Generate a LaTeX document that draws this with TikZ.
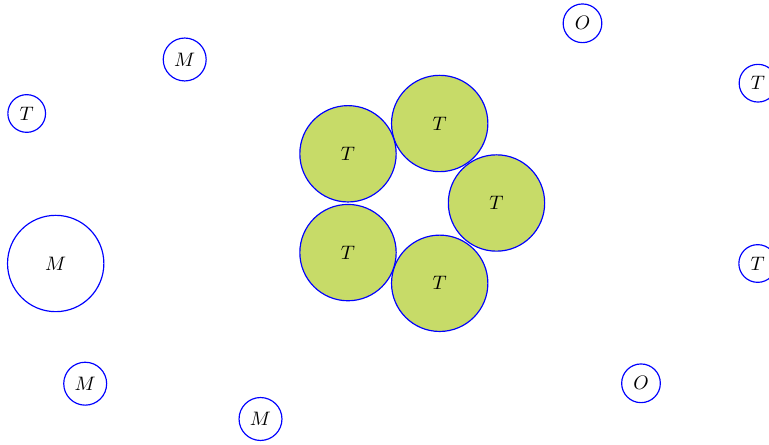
\documentclass[tikz,border=0pt]{standalone}
\definecolor{tfill}{HTML}{C7DB68}
\begin{document}
\begin{tikzpicture}[x=0.5128pt,y=-0.5128pt,
  small/.style={circle,draw=blue,semithick,inner sep=0.3333em},
  bigc/.style={circle,draw=blue,semithick,minimum size=49.4pt},
  tball/.style={bigc,fill=tfill}]
\useasboundingbox (0,0) rectangle (769,445);
\node[small] (o1) at (582.5,23.3) {$O$};
\node[small] (m1) at (184.7,59.5) {$M$};
\node[small] (t1) at (26.7,113.5) {$T$};
\node[small] (t2) at (758,83.2) {$T$};
\node[small] (t3) at (757.7,263.5) {$T$};
\node[small] (m2) at (85.2,383.7) {$M$};
\node[small] (m3) at (260.5,419) {$M$};
\node[small] (o2) at (641,383.3) {$O$};
\node[bigc] (mb) at (55.7,263.5) {$M$};
\node[tball] (p1) at (496.5,203) {$T$};
\node[tball] (p2) at (439.7,123.5) {$T$};
\node[tball] (p3) at (348,153.8) {$T$};
\node[tball] (p4) at (348,252.6) {$T$};
\node[tball] (p5) at (439.7,283.3) {$T$};
\end{tikzpicture}
\end{document}
